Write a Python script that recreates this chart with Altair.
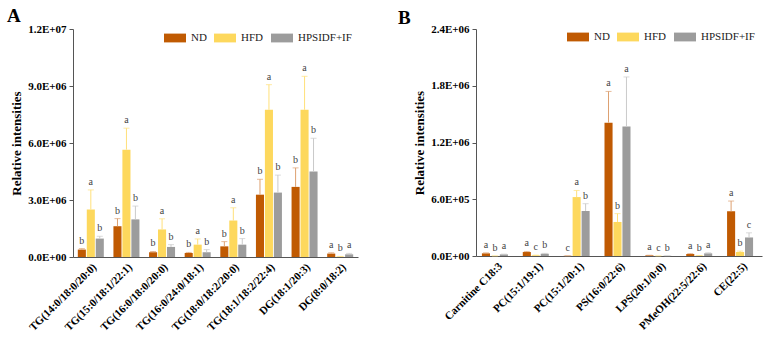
import altair as alt
import pandas as pd

groups = ["ND", "HFD", "HPSIDF+IF"]
bar_colors = ["#C05A02", "#FDD85D", "#9C9C9C"]
err_colors = ["#DDA070", "#FFE07A", "#CACACA"]

# Panel A
a_categories = ["TG(14:0/18:0/20:0)", "TG(15:0/18:1/22:1)", "TG(16:0/18:0/20:0)",
                "TG(16:0/24:0/18:1)", "TG(18:0/18:2/20:0)", "TG(18:1/18:2/22:4)",
                "DG(18:1/20:3)", "DG(8:0/18:2)"]
a_nd = [0.39e6, 1.62e6, 0.25e6, 0.21e6, 0.56e6, 3.28e6, 3.69e6, 0.18e6]
a_nd_err = [0.05e6, 0.40e6, 0.04e6, 0.03e6, 0.25e6, 0.81e6, 1.00e6, 0.04e6]
a_hfd = [2.50e6, 5.65e6, 1.45e6, 0.65e6, 1.92e6, 7.75e6, 7.75e6, 0.02e6]
a_hfd_err = [1.03e6, 1.13e6, 0.56e6, 0.30e6, 0.67e6, 1.32e6, 1.76e6, 0.01e6]
a_grey = [0.97e6, 1.98e6, 0.53e6, 0.25e6, 0.65e6, 3.39e6, 4.50e6, 0.14e6]
a_grey_err = [0.12e6, 0.70e6, 0.12e6, 0.14e6, 0.32e6, 0.92e6, 1.75e6, 0.05e6]
a_let_nd = ["b", "b", "b", "b", "b", "b", "b", "a"]
a_let_hfd = ["a", "a", "a", "a", "a", "a", "a", "b"]
a_let_grey = ["b", "b", "b", "b", "b", "b", "b", "a"]
a_ticks = [0, 3e6, 6e6, 9e6, 1.2e7]

# Panel B
b_categories = ["Carnitine C18:3", "PC(15:1/19:1)", "PC(15:1/20:1)", "PS(16:0/22:6)",
                "LPS(20:1/0:0)", "PMeOH(22:5/22:6)", "CE(22:5)"]
b_nd = [28000, 42000, 2000, 1410000, 7000, 21000, 472000]
b_nd_err = [5000, 6000, 0, 330000, 1000, 4000, 109000]
b_hfd = [1000, 7000, 623000, 360000, 1000, 4000, 42000]
b_hfd_err = [0, 2000, 70000, 88000, 0, 1000, 10000]
b_grey = [17000, 24000, 476000, 1368000, 2000, 28000, 196000]
b_grey_err = [3000, 4000, 77000, 525000, 500, 6000, 49000]
b_let_nd = ["a", "a", "c", "a", "a", "a", "a"]
b_let_hfd = ["b", "c", "a", "b", "c", "b", "b"]
b_let_grey = ["a", "b", "b", "a", "b", "a", "c"]
b_ticks = [0, 6e5, 1.2e6, 1.8e6, 2.4e6]

SERIF = "Liberation Serif, Times New Roman, serif"


def build_df(cats, vals, errs, lets):
    rows = []
    for gi, g in enumerate(groups):
        for i, c in enumerate(cats):
            v = vals[gi][i]
            e = errs[gi][i]
            rows.append({"cat": c, "group": g, "value": v, "top": v + e,
                         "ecolor": err_colors[gi], "letter": lets[gi][i]})
    return pd.DataFrame(rows)


def panel(df, cats, ticks, letter, width, height, pad_inner, legend_y, title_dx, title_off):
    x = alt.X("cat:N", sort=cats, title=None,
              scale=alt.Scale(paddingInner=pad_inner, paddingOuter=pad_inner / 2),
              axis=alt.Axis(labelAngle=-45, ticks=False, labelPadding=4))
    xo = alt.XOffset("group:N", sort=groups, scale=alt.Scale(paddingInner=0.1))
    yscale = alt.Scale(domain=[ticks[0], ticks[-1]], nice=False)
    base = alt.Chart(df)
    bars = base.mark_bar().encode(
        x=x, xOffset=xo,
        y=alt.Y("value:Q", scale=yscale, title="Relative intensities",
                axis=alt.Axis(values=ticks,
                              labelExpr="replace(format(datum.value, '.1e'), 'e+', 'E+0')",
                              grid=False, tickSize=4, labelPadding=3, titlePadding=4)),
        color=alt.Color("group:N", sort=groups,
                        scale=alt.Scale(domain=groups, range=bar_colors),
                        legend=alt.Legend(orient="none", legendX=91, legendY=legend_y,
                                          direction="horizontal", title=None)),
    )
    rules = base.mark_rule(strokeWidth=1).encode(
        x=x, xOffset=xo, y=alt.Y("value:Q", scale=yscale), y2="top:Q",
        color=alt.Color("ecolor:N", scale=None))
    caps = base.mark_tick(size=6, thickness=1).encode(
        x=x, xOffset=xo, y=alt.Y("top:Q", scale=yscale),
        color=alt.Color("ecolor:N", scale=None))
    labels = base.mark_text(dy=-3, baseline="bottom", fontSize=10,
                            color="#444").encode(
        x=x, xOffset=xo, y=alt.Y("top:Q", scale=yscale), text="letter:N")
    return alt.layer(bars, rules, caps, labels).properties(
        width=width, height=height,
        title=alt.TitleParams(letter, anchor="start", frame="group",
                              fontSize=19, fontWeight="bold", color="#000",
                              dx=title_dx, offset=title_off))


df_a = build_df(a_categories, [a_nd, a_hfd, a_grey], [a_nd_err, a_hfd_err, a_grey_err],
                [a_let_nd, a_let_hfd, a_let_grey])
df_b = build_df(b_categories, [b_nd, b_hfd, b_grey], [b_nd_err, b_hfd_err, b_grey_err],
                [b_let_nd, b_let_hfd, b_let_grey])

chart_a = panel(df_a, a_categories, a_ticks, "A", 285, 228, 0.27, -2, -66, -3)
chart_b = panel(df_b, b_categories, b_ticks, "B", 286, 227, 0.29, -3, -78, -5)

chart = alt.hconcat(chart_a, chart_b, spacing=40).resolve_scale(
    color="independent").resolve_legend(color="independent").properties(
    padding={"left": 7, "top": 7, "right": 5, "bottom": 0}
).configure(background="white", font=SERIF
).configure_view(stroke=None
).configure_axis(labelFont=SERIF, labelFontWeight="bold", labelFontSize=11,
                 labelColor="#000", titleFont=SERIF, titleFontWeight="bold",
                 titleFontSize=13, titleColor="#000", domainColor="#555",
                 tickColor="#555"
).configure_legend(labelFont=SERIF, labelFontSize=11, labelColor="#222",
                   labelFontWeight="normal",
                   symbolType="M-1,-0.4H1V0.4H-1Z", symbolSize=484,
                   symbolStrokeWidth=0, symbolOpacity=1, labelOffset=5,
                   columnPadding=7
).configure_text(font=SERIF
).configure_title(font=SERIF)

chart.save("out.html", embed_options={"renderer": "svg", "actions": False})
